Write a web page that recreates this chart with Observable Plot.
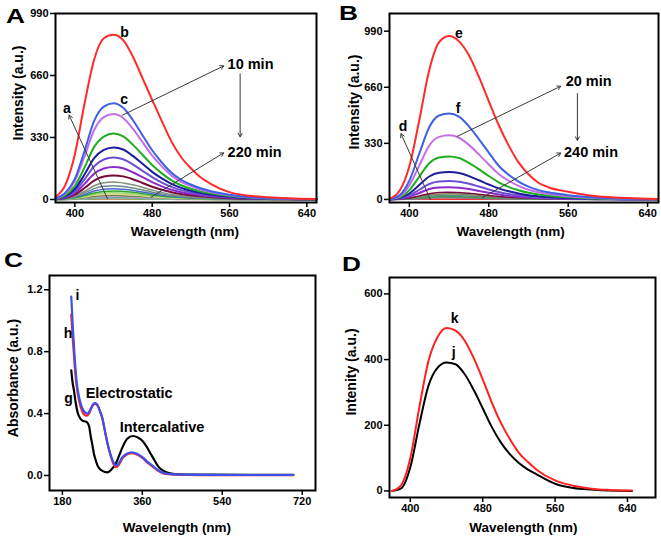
<!DOCTYPE html>
<html><head><meta charset="utf-8">
<script src="https://cdn.jsdelivr.net/npm/d3@7"></script>
<script src="https://cdn.jsdelivr.net/npm/@observablehq/plot@0.6"></script>
<style>
body{margin:0;background:#fff;}
#fig{position:relative;width:661px;height:540px;overflow:hidden;background:#fff;font-family:"Liberation Sans",Arial,sans-serif;font-weight:bold;color:#000;}
.p{position:absolute;}
.t{position:absolute;font-size:13.5px;white-space:nowrap;transform:translate(-50%,-50%);line-height:1;}
.ty{position:absolute;font-size:14px;white-space:nowrap;transform:translate(-50%,-50%) rotate(-90deg);line-height:1;}
.L{position:absolute;font-size:21px;transform-origin:left top;transform:scaleX(1.25);line-height:1;}
</style></head><body><div id="fig"></div>
<script>
// ---------- Panel A data ----------
const wlA = [380,390,400,410,420,430,440,450,460,470,480,490,500,510,520,530,540,560,580,600,620,650];
const A_b   = [15,75,240,510,745,858,877,848,761,646,530,417,308,225,166,118,85,39,20,12,7,3];
const A_10  = [5,35,110,258,418,494,512,488,423,342,262,197,142,105,80,60,45,25,13,7,4,2];
const A_20  = [4,30,98,228,370,438,455,434,377,305,234,176,127,94,71,53,40,22,12,6,3,2];
const A_30  = [3,22,72,170,280,335,351,336,292,238,184,139,102,76,57,43,33,18,10,5,3,1];
const A_40  = [2,17,56,133,220,264,277,266,232,190,147,112,83,62,47,36,27,15,8,4,2,1];
const A_50  = [2,14,45,107,177,213,223,214,187,153,119,90,67,50,38,29,22,12,7,4,2,1];
const A_60  = [1,11,35,83,137,165,173,166,145,119,92,70,52,39,30,23,17,10,5,3,2,1];
const A_70  = [1,8,26,61,101,122,128,123,108,88,68,52,39,29,22,17,13,7,4,2,1,0];
const wlS = [380,400,410,420,430,440,460,480,500,520,550,600,650];
const A_80  = [1,19,44,73,89,93,78,50,27,15,7,2,1];
const A_90  = [1,15,35,58,70,73,61,39,21,12,5,2,0];
const A_100 = [0,12,27,45,55,57,48,31,17,9,4,1,0];
const A_110 = [0,9,21,35,43,45,38,24,13,7,3,1,0];
const A_120 = [0,7,17,28,34,36,30,19,11,6,3,1,0];
const A_130 = [0,6,13,22,27,28,24,15,8,5,2,1,0];
const A_140 = [0,4,10,17,21,22,18,12,7,4,2,0,0];
const A_150 = [0,3,8,13,16,17,14,9,5,3,1,0,0];
const A_160 = [0,3,6,10,12,13,11,7,4,2,1,0,0];
const A_170 = [0,2,5,8,10,10,8,5,3,2,1,0,0];
const A_180 = [0,2,4,6,8,8,7,4,2,1,1,0,0];
const A_190 = [0,1,3,5,6,6,5,3,2,1,0,0,0];
const A_200 = [0,1,2,4,5,5,4,3,1,1,0,0,0];
const A_210 = [0,1,2,3,4,4,3,2,1,1,0,0,0];
const A_220 = [0,1,1,2,3,3,3,2,1,0,0,0,0];
const A_a   = [1,1,1,1,1,1,1,1,1,1,1,1,1];

// ---------- Panel B data ----------
const B_e   = [5,50,195,466,760,925,961,930,848,722,578,438,318,218,148,98,72,45,25,14,8,3];
const B_20  = [3,24,110,269,425,494,505,487,430,355,276,198,145,105,75,55,42,25,14,8,4,2];
const B_40  = [2,18,82,200,317,368,377,363,321,265,206,150,110,80,57,42,32,19,11,6,3,1];
const B_60  = [2,12,55,134,213,247,253,244,215,178,138,101,74,54,39,29,22,13,7,4,2,1];
const B_80  = [1,8,35,85,135,157,161,155,137,113,88,65,48,35,25,19,14,8,5,3,1,1];
const B_100 = [1,5,24,57,91,105,108,104,92,76,59,44,32,24,17,13,10,6,3,2,1,0];
const B_120 = [0,4,16,38,61,70,72,69,61,50,39,29,21,16,11,9,7,4,2,1,1,0];
const B_140 = [0,9,21,34,41,43,36,23,13,7,4,1,0];
const B_160 = [0,7,16,26,31,33,28,18,10,6,3,1,0];
const B_180 = [0,5,12,19,23,24,20,13,7,4,2,1,0];
const B_200 = [0,4,8,13,16,17,14,9,5,3,1,0,0];
const B_220 = [0,3,6,9,11,12,10,6,4,2,1,0,0];
const B_240 = [0,2,4,6,8,8,7,4,2,1,1,0,0];
const B_d   = [1,1,1,1,1,1,1,1,1,1,1,1,1];

// ---------- Panel C data ----------
const wlC_i = [200,204,208,212,218,224,230,236,242,248,253,258,264,270,277,283,289,295,300,306,315,325,336,348,360,371,382,393,405,420,435,460,500,600,700];
const C_i   = [1.155,0.935,0.75,0.61,0.50,0.44,0.41,0.40,0.42,0.455,0.467,0.46,0.42,0.37,0.27,0.19,0.13,0.085,0.065,0.075,0.118,0.14,0.15,0.14,0.118,0.09,0.065,0.04,0.02,0.01,0.007,0.005,0.004,0.003,0.003];
const wlC_h = [200,204,208,212,218,224,230,234,240,246,253,258,264,270,277,283,289,295,300,306,315,325,336,348,360,371,382,393,405,420,435,460,500,600,700];
const C_h   = [1.04,0.86,0.70,0.58,0.48,0.42,0.39,0.387,0.40,0.44,0.462,0.457,0.42,0.37,0.27,0.19,0.125,0.075,0.055,0.065,0.11,0.135,0.145,0.135,0.113,0.085,0.06,0.035,0.016,0.008,0.005,0.003,0.002,0.002,0.002];
const wlC_g = [200,203,206,210,214,220,225,230,235,240,244,248,251,255,259,265,270,281,292,300,308,315,326,339,350,360,370,379,388,397,408,420,440,480,600,700];
const C_g   = [0.68,0.60,0.55,0.47,0.41,0.37,0.355,0.35,0.345,0.32,0.25,0.19,0.14,0.10,0.065,0.04,0.03,0.02,0.043,0.075,0.13,0.18,0.237,0.255,0.245,0.225,0.185,0.14,0.095,0.054,0.03,0.015,0.008,0.005,0.004,0.004];

// ---------- Panel D data ----------
const wlD = [380,390,400,410,420,430,440,450,460,470,480,490,500,510,520,530,540,560,580,600,620,645];
const D_k = [0,18,100,255,395,468,496,488,458,405,340,270,208,158,116,88,64,32,16,7,3,1];
const D_j = [0,8,72,203,320,375,391,386,356,308,252,195,148,112,85,65,50,22,9,4,1,0];

// ---------- ticks ----------
const xTicksAB = [400,480,560,640];
const yTicksAB = [0,330,660,990];
const xTicksC = [180,360,540,720];
const yTicksC = [0,0.4,0.8,1.2];
const xTicksD = [400,480,560,640];
const yTicksD = [0,200,400,600];

// ---------- annotations (data coordinates) ----------
const arrowsA = [
  {x1:433.8,y1:4,x2:394.1,y2:449},{x1:449.4,y1:449,x2:554,y2:711},
  {x1:571,y1:669,x2:571,y2:334},{x1:478.7,y1:12,x2:554,y2:248}];
const lettersA = [{x:391.7,y:485,t:"a"},{x:451.5,y:891,t:"b"},{x:451,y:533,t:"c"}];
const notesA = [{x:558,y:720,t:"10 min"},{x:558,y:253,t:"220 min"}];
const arrowsB = [
  {x1:421.2,y1:0,x2:391.6,y2:387},{x1:448.2,y1:371,x2:552.5,y2:666},
  {x1:569.3,y1:623,x2:569.3,y2:348},{x1:473.4,y1:10,x2:552.5,y2:273}];
const lettersB = [{x:393.6,y:430,t:"d"},{x:449.8,y:976,t:"e"},{x:449.2,y:534,t:"f"}];
const notesB = [{x:557.5,y:695,t:"20 min"},{x:555.8,y:279,t:"240 min"}];
const lettersC = [{x:213.8,y:1.163,t:"i"},{x:193,y:0.916,t:"h"},{x:193.7,y:0.496,t:"g"}];
const notesC = [{x:232.4,y:0.532,t:"Electrostatic"},{x:309,y:0.308,t:"Intercalative"}];
const lettersD = [{x:449,y:524,t:"k"},{x:448,y:422,t:"j"}];

const mk = (wl, v) => wl.map((x, i) => ({x, y: v[i]}));
const ln = (wl, v, color, w=2) => Plot.line(mk(wl, v), {x:"x", y:"y", stroke: color, strokeWidth: w, curve: "monotone-x"});

const seriesA = [
  [wlS,A_a,"#ff2a2a"],
  [wlS,A_220,"#e07a9a"],[wlS,A_210,"#c8c860"],[wlS,A_200,"#a07c5c"],[wlS,A_190,"#40c040"],
  [wlS,A_180,"#a8a8e0"],[wlS,A_170,"#88c088"],[wlS,A_160,"#60a0a0"],[wlS,A_150,"#d4a0d4"],
  [wlS,A_140,"#5e7a3a"],[wlS,A_130,"#e0d890"],[wlS,A_120,"#98d870"],[wlS,A_110,"#2ea82e"],
  [wlS,A_100,"#4a6acc"],[wlS,A_90,"#6a8a8a"],[wlS,A_80,"#80907a"],
  [wlA,A_70,"#7a0a3a"],[wlA,A_60,"#8a2ccc"],[wlA,A_50,"#6c4fd6"],[wlA,A_40,"#1c1c9c"],
  [wlA,A_30,"#1fae1f"],[wlA,A_20,"#c46fe8"],[wlA,A_10,"#3f5fe6"],[wlA,A_b,"#ff2a2a"]];
const seriesB = [
  [wlS,B_d,"#ff2a2a"],
  [wlS,B_240,"#b08080"],[wlS,B_220,"#8a70b0"],[wlS,B_200,"#3aa03a"],[wlS,B_180,"#5a8a8a"],
  [wlS,B_160,"#7a8a5a"],[wlS,B_140,"#7a0a3a"],
  [wlA,B_120,"#8a2ccc"],[wlA,B_100,"#6c4fd6"],[wlA,B_80,"#1c1c9c"],[wlA,B_60,"#1fae1f"],
  [wlA,B_40,"#c46fe8"],[wlA,B_20,"#3f5fe6"],[wlA,B_e,"#ff2a2a"]];

const baseStyle = {fontFamily:'"Liberation Sans", Arial, sans-serif', fontWeight:"bold", fontSize:"11px", color:"#000", background:"transparent", overflow:"visible"};

function makePanel(cfg) {
  const marks = [
    Plot.axisX({ticks: cfg.xt, tickSize: 5, tickPadding: 2, label: null, strokeWidth: 1.5, fontSize: 11, tickFormat: cfg.xf || (d => d)}),
    Plot.axisY({ticks: cfg.yt, tickSize: 5, tickPadding: 2, label: null, strokeWidth: 1.5, fontSize: 11, tickFormat: cfg.yf || (d => d)}),
    ...cfg.lines,
    Plot.frame({stroke: "#000", strokeWidth: 2}),
  ];
  if (cfg.arrows) marks.push(Plot.arrow(cfg.arrows, {x1:"x1", y1:"y1", x2:"x2", y2:"y2", stroke:"#3a3a3a", strokeWidth:1, headLength:6}));
  if (cfg.letters) marks.push(Plot.text(cfg.letters, {x:"x", y:"y", text:"t", fontSize:14, fontWeight:"bold", fill:"#000"}));
  if (cfg.notes) marks.push(Plot.text(cfg.notes, {x:"x", y:"y", text:"t", fontSize:14.5, fontWeight:"bold", fill:"#000", textAnchor:"start"}));
  const svg = Plot.plot({
    width: cfg.w, height: cfg.h,
    marginLeft: cfg.ml, marginRight: cfg.mr, marginTop: cfg.mt, marginBottom: cfg.mb,
    x: {domain: cfg.xd}, y: {domain: cfg.yd},
    style: baseStyle, marks
  });
  svg.classList.add("p");
  svg.style.left = cfg.left + "px";
  svg.style.top = cfg.top + "px";
  return svg;
}

const fig = document.getElementById("fig");
fig.appendChild(makePanel({left:0, top:0, w:330, h:245, ml:55, mr:14, mt:13, mb:43,
  xd:[380,650], yd:[-16,990], xt:xTicksAB, yt:yTicksAB,
  lines: seriesA.map(([wl,v,c],i) => ln(wl, v, c, i >= 16 ? 2 : 1.5)),
  arrows: arrowsA, letters: lettersA, notes: notesA}));
fig.appendChild(makePanel({left:330, top:0, w:331, h:245, ml:59, mr:3, mt:13, mb:43,
  xd:[380,651], yd:[-18,1094], xt:xTicksAB, yt:yTicksAB,
  lines: seriesB.map(([wl,v,c],i) => ln(wl, v, c, i >= 7 ? 2 : 1.5)),
  arrows: arrowsB, letters: lettersB, notes: notesB}));
fig.appendChild(makePanel({left:0, top:270, w:330, h:270, ml:49, mr:15, mt:5, mb:50,
  xd:[151,750], yd:[-0.097,1.292], xt:xTicksC, yt:yTicksC, yf: d3.format(".1f"),
  lines: [ln(wlC_g, C_g, "#000", 2.2), ln(wlC_h, C_h, "#ff2020", 2.2), ln(wlC_i, C_i, "#3c50ee", 2.2)],
  letters: lettersC, notes: notesC}));
fig.appendChild(makePanel({left:330, top:270, w:331, h:270, ml:59, mr:6, mt:7, mb:43,
  xd:[377,671], yd:[-20,650], xt:xTicksD, yt:yTicksD,
  lines: [ln(wlD, D_j, "#000", 2), ln(wlD, D_k, "#ff2020", 2)],
  letters: lettersD}));

function addText(cls, txt, x, y) {
  const d = document.createElement("div");
  d.className = cls; d.textContent = txt;
  d.style.left = x + "px"; d.style.top = y + "px";
  fig.appendChild(d);
}
addText("t", "Wavelength (nm)", 185, 232);
addText("t", "Wavelength (nm)", 510.7, 232.3);
addText("t", "Wavelength (nm)", 177, 528);
addText("t", "Wavelength (nm)", 523.3, 528.3);
addText("ty", "Intensity (a.u.)", 18.3, 93);
addText("ty", "Intensity (a.u.)", 354, 102);
addText("ty", "Absorbance (a.u.)", 13.3, 377.5);
addText("ty", "Intenity (a.u.)", 350.7, 371.7);
addText("L", "A", 6, 4.5);
addText("L", "B", 339, 1.5);
addText("L", "C", 4, 249);
addText("L", "D", 342, 253);
</script></body></html>
